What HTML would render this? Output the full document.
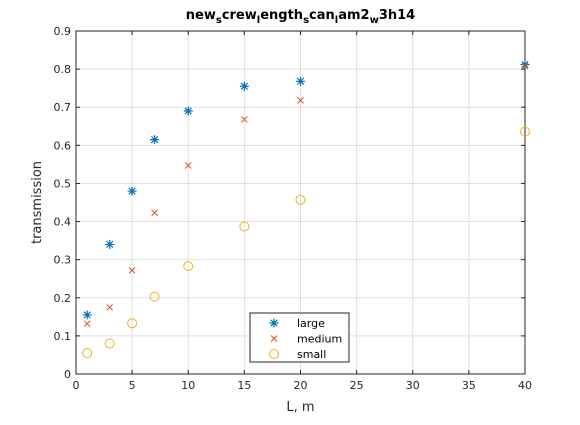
<!DOCTYPE html>
<html><head><meta charset="utf-8"><style>
body{margin:0;background:#fff;}
svg text{font-family:"DejaVu Sans","Liberation Sans",sans-serif;}
</style></head><body>
<svg id="c" width="580" height="420" xmlns="http://www.w3.org/2000/svg"></svg>
<script>
const xTicks=[0,5,10,15,20,25,30,35,40];
const yTicks=[0,0.1,0.2,0.3,0.4,0.5,0.6,0.7,0.8,0.9];
const xVals=[1,3,5,7,10,15,20,40];
const largeVals=[0.155,0.34,0.48,0.615,0.69,0.755,0.768,0.812];
const mediumVals=[0.132,0.175,0.272,0.423,0.547,0.668,0.718,0.808];
const smallVals=[0.055,0.08,0.133,0.203,0.283,0.387,0.457,0.636];
const L=76,R=525,T=31,B=374;
const sx=v=>L+(v-0)/(40-0)*(R-L);
const sy=v=>B-(v-0)/(0.9-0)*(B-T);
const svg=document.getElementById('c');
const NS='http://www.w3.org/2000/svg';
function mk(tag,attrs,parent){const e=document.createElementNS(NS,tag);for(const k in attrs)e.setAttribute(k,attrs[k]);(parent||svg).appendChild(e);return e;}
const grid=mk('g',{});


xTicks.forEach(t=>{mk('line',{x1:sx(t),x2:sx(t),y1:T,y2:B,stroke:'#dfdfdf','stroke-width':1},grid);});
yTicks.forEach(t=>{mk('line',{x1:L,x2:R,y1:sy(t),y2:sy(t),stroke:'#dfdfdf','stroke-width':1},grid);});
const ax=mk('g',{});


mk('rect',{x:L,y:T,width:R-L,height:B-T,fill:'none',stroke:'#262626','stroke-width':1},ax);
xTicks.forEach(t=>{mk('line',{x1:sx(t),x2:sx(t),y1:B,y2:B-4,stroke:'#262626'},ax);mk('line',{x1:sx(t),x2:sx(t),y1:T,y2:T+4,stroke:'#262626'},ax);
const tx=mk('text',{x:sx(t),y:B+15,'font-size':11,'text-anchor':'middle',fill:'#262626'},ax);tx.textContent=t;

});
yTicks.forEach(t=>{mk('line',{x1:L,x2:L+4,y1:sy(t),y2:sy(t),stroke:'#262626'},ax);mk('line',{x1:R,x2:R-4,y1:sy(t),y2:sy(t),stroke:'#262626'},ax);
const tx=mk('text',{x:L-5,y:sy(t)+4,'font-size':11,'text-anchor':'end',fill:'#262626'},ax);tx.textContent=String(t);

});
const xt=mk('text',{x:(L+R)/2,y:411,'font-size':13,'text-anchor':'middle',fill:'#262626'});xt.textContent='L, m';


const yt=mk('text',{x:0,y:0,'font-size':13,'text-anchor':'middle',fill:'#262626',transform:`translate(41,${(T+B)/2}) rotate(-90)`});yt.textContent='transmission';


const ti=mk('text',{x:(L+R)/2,y:19,'font-size':13,'font-weight':'bold','text-anchor':'middle',fill:'#000'});
ti.innerHTML='new<tspan font-size="10" dy="4">s</tspan><tspan dy="-4">crew</tspan><tspan font-size="10" dy="4">l</tspan><tspan dy="-4">ength</tspan><tspan font-size="10" dy="4">s</tspan><tspan dy="-4">can</tspan><tspan font-size="10" dy="4">l</tspan><tspan dy="-4">am2</tspan><tspan font-size="10" dy="4">w</tspan><tspan dy="-4">3h14</tspan>';


function star(g,x,y,c){const r=4.5;mk('path',{d:`M${x-r} ${y}H${x+r}M${x} ${y-r}V${y+r}M${x-3.2} ${y-3.2}L${x+3.2} ${y+3.2}M${x-3.2} ${y+3.2}L${x+3.2} ${y-3.2}`,stroke:c,'stroke-width':1.2,fill:'none'},g);}
function cross(g,x,y,c){const r=3;mk('path',{d:`M${x-r} ${y-r}L${x+r} ${y+r}M${x-r} ${y+r}L${x+r} ${y-r}`,stroke:c,'stroke-width':1,fill:'none'},g);}
function circ(g,x,y,c){mk('circle',{cx:x,cy:y,r:4.5,stroke:c,'stroke-width':1,fill:'none'},g);}
const series=[['large',largeVals,'#0072bd',star],['medium',mediumVals,'#d95319',cross],['small',smallVals,'#edb120',circ]];
series.forEach(([n,vals,c,f])=>{const g=mk('g',{});


vals.forEach((v,i)=>f(g,sx(xVals[i]),sy(v),c));});
const lg=mk('g',{});


mk('rect',{x:250,y:313,width:99,height:49,fill:'#fff',stroke:'#262626','stroke-width':1},lg);
series.forEach(([n,vals,c,f],i)=>{const y=323+i*15.5;f(lg,274,y,c);const t=mk('text',{x:297,y:y+4,'font-size':11,fill:'#000'},lg);t.textContent=n;

});
</script>
</body></html>
